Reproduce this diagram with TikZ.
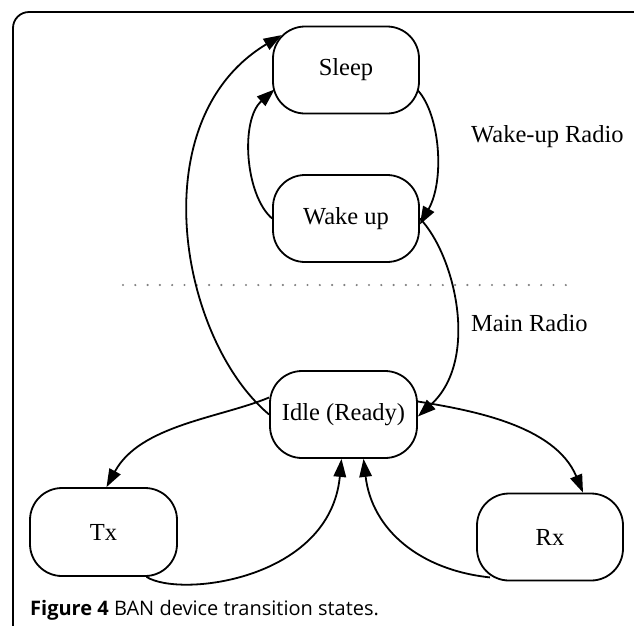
\documentclass[tikz,border=0pt]{standalone}
\usepackage{fontspec}
\setmainfont{Liberation Serif}
\newfontfamily\capfont{Open Sans}
\usetikzlibrary{arrows.meta}
\begin{document}
\begin{tikzpicture}[x=1pt,y=-1pt,
  state/.style={draw, line width=1.8pt, rounded corners=32pt, minimum width=146pt, minimum height=87pt, inner sep=0pt, font=\fontsize{24.5}{28}\selectfont},
  lbl/.style={anchor=west, inner sep=0pt, font=\fontsize{24.5}{28}\selectfont},
  conn/.style={line width=1.8pt, -{Triangle[length=18pt,width=12.5pt]}}]
\useasboundingbox (0,0) rectangle (634,625);
\draw[line width=1.8pt, rounded corners=16pt] (13,12) rectangle (680,680);
\node[state] (sleep) at (346,70) {Sleep};
\node[state] (wake) at (346,218.5) {Wake up};
\node[state, minimum width=147pt] (idle) at (343.5,414.5) {Idle (Ready)};
\node[state, minimum width=147pt, minimum height=88pt] (tx) at (103.5,532) {Tx};
\node[state] (rx) at (550,537) {Rx};
\node[lbl] (wr) at (471,137) {Wake-up Radio};
\node[lbl] (mr) at (471,323) {Main Radio};
\coordinate (d1) at (123,285);
\coordinate (d2) at (566,285);
\draw[gray, line width=2.4pt, line cap=round, dash pattern=on 0pt off 12.3pt] (d1) -- (d2);
% idle -> sleep
\draw[conn] (idle.west) .. controls (180,340) and (140,120) .. ([shift={(9.5,9.5)}]sleep.north west);
% wake -> sleep
\draw[conn] (wake.west) .. controls (245,195) and (240,120) .. ([shift={(2.5,-25)}]sleep.south west);
% sleep -> wake
\draw[conn] ([shift={(-2,-24)}]sleep.south east) .. controls (440,115) and (445,180) .. ([yshift=-6]wake.east);
% wake -> idle
\draw[conn] (wake.east) .. controls (455,255) and (480,360) .. ([yshift=-2]idle.east);
% idle -> tx
\draw[conn] ([yshift=17]idle.west) .. controls (220,418) and (140,425) .. ([xshift=3]tx.north);
% idle -> rx
\draw[conn] ([yshift=13]idle.east) .. controls (470,410) and (555,425) .. ([xshift=33]rx.north);
% tx -> idle
\draw[conn] ([xshift=43]tx.south) .. controls (180,598) and (330,580) .. ([xshift=-2]idle.south);
% rx -> idle
\draw[conn] ([shift={(-60,-4)}]rx.south) .. controls (420,570) and (372,530) .. ([xshift=20]idle.south);
\node[anchor=west, inner sep=0pt, font=\capfont\fontsize{20}{24}\selectfont] (cap) at (30,610) {\textbf{Figure 4} BAN device transition states.};
\end{tikzpicture}
\end{document}
